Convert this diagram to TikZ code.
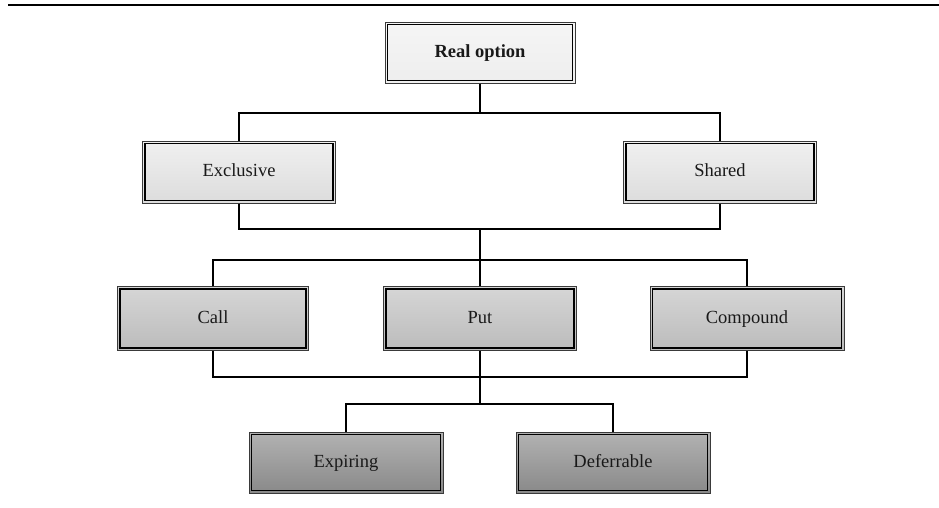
\documentclass[tikz,border=0pt]{standalone}
\usepackage{fontspec}
\setmainfont{Liberation Serif}
\definecolor{lvA}{HTML}{F5F5F5}
\definecolor{lvAb}{HTML}{EEEEEE}
\definecolor{lvB}{HTML}{F0F0F0}
\definecolor{lvBb}{HTML}{DCDCDC}
\definecolor{lvC}{HTML}{D6D6D6}
\definecolor{lvCb}{HTML}{BBBBBB}
\definecolor{lvD}{HTML}{B2B2B2}
\definecolor{lvDb}{HTML}{898989}
\definecolor{frame}{HTML}{3A3A3A}
\tikzset{
  box/.style={draw=frame, line width=1pt, minimum width=193pt, minimum height=62pt,
    inner sep=0pt, font=\fontsize{18.5}{22}\selectfont, text=black!90,
    text height=13pt, text depth=4pt},
  lvone/.style={box, top color=lvA, bottom color=lvAb},
  lvtwo/.style={box, top color=lvB, bottom color=lvBb},
  lvthree/.style={box, top color=lvC, bottom color=lvCb},
  lvfour/.style={box, top color=lvD, bottom color=lvDb},
  inner frame/.style={draw=black, line width=1.3pt},
  link/.style={draw=black, line width=1.6pt},
}
\newcommand{\innerframe}[1]{%
  \draw[inner frame] ([xshift=3pt,yshift=-3pt]#1.north west) rectangle ([xshift=-3pt,yshift=3pt]#1.south east);}
\begin{document}
\begin{tikzpicture}[x=1pt,y=-1pt]
\useasboundingbox (0,0) rectangle (939,507);

% top rule
\coordinate (ruleL) at (8,5);
\coordinate (ruleR) at (939,5);
\draw[line width=2pt] (ruleL) -- (ruleR);

% boxes
\node[lvone, minimum width=190pt, minimum height=61pt, font=\fontsize{18.5}{22}\selectfont\bfseries] (root) at (480,52.5) {Real option};
\node[lvtwo] (ex) at (239,172) {Exclusive};
\node[lvtwo] (sh) at (720,172) {Shared};
\node[lvthree, minimum width=191pt, minimum height=64pt] (call) at (213,318.5) {Call};
\node[lvthree, minimum height=64pt] (put) at (480,318.5) {Put};
\node[lvthree, minimum width=194pt, minimum height=64pt] (comp) at (747,318.5) {Compound};
\node[lvfour, minimum width=194pt, minimum height=61pt] (exp) at (346,462.5) {Expiring};
\node[lvfour, minimum width=194pt, minimum height=61pt] (def) at (613,462.5) {Deferrable};

\foreach \n in {root,ex,sh,call,put,comp,exp,def}{\innerframe{\n}}

% bus levels
\coordinate (busA) at (480,113);
\coordinate (busB) at (480,229);
\coordinate (busC) at (480,260);
\coordinate (busD) at (480,377);
\coordinate (busE) at (480,404);

% connectors
\draw[link] (root.south) -- (busA);
\draw[link] (ex.north) -- (ex.north |- busA) -- (sh.north |- busA) -- (sh.north);
\draw[link] (ex.south) -- (ex.south |- busB) -- (sh.south |- busB) -- (sh.south);
\draw[link] (busB) -- (busC);
\draw[link] (call.north) -- (call.north |- busC) -- (comp.north |- busC) -- (comp.north);
\draw[link] (busC) -- (put.north);
\draw[link] (call.south) -- (call.south |- busD) -- (comp.south |- busD) -- (comp.south);
\draw[link] (put.south) -- (busE);
\draw[link] (exp.north) -- (exp.north |- busE) -- (def.north |- busE) -- (def.north);
\end{tikzpicture}
\end{document}
